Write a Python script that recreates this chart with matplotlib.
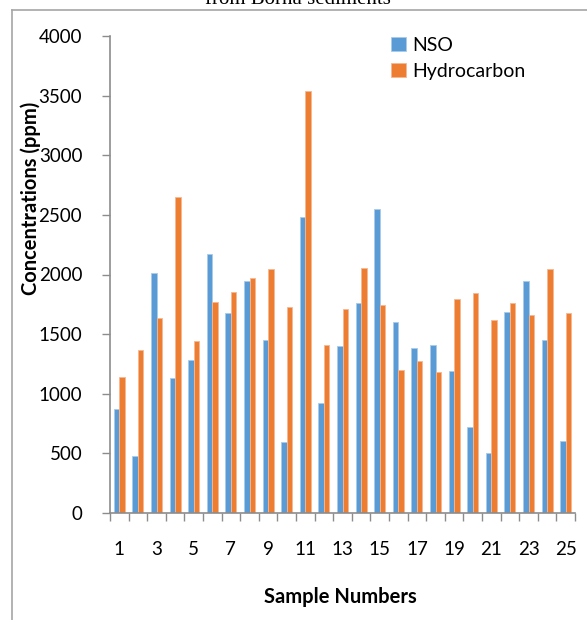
import matplotlib
matplotlib.use("Agg")
import matplotlib.pyplot as plt
from matplotlib.lines import Line2D
import numpy as np

# NSO and hydrocarbon concentrations (ppm) for samples 1-25
samples = list(range(1, 26))
nso = [870, 478, 2010, 1132, 1283, 2169, 1680, 1943, 1450, 595,
       2485, 920, 1400, 1758, 2549, 1604, 1381, 1409, 1188, 719,
       500, 1683, 1943, 1450, 601]
hydrocarbon = [1138, 1364, 1638, 2650, 1440, 1769, 1851, 1968, 2046, 1727,
               3541, 1409, 1713, 2052, 1742, 1199, 1272, 1180, 1797, 1845,
               1618, 1758, 1660, 2046, 1674]
x_labels = [str(s) if s % 2 == 1 else "" for s in samples]
y_ticks = list(range(0, 4001, 500))

plt.rcParams['font.family'] = ['Lato', 'DejaVu Sans']

W, H = 587, 620
fig = plt.figure(figsize=(W / 100, H / 100), dpi=100)
fig.patch.set_facecolor("white")

def fx(px):
    return px / W

def fy(py):
    return 1 - py / H

ax = fig.add_axes([fx(110), fy(513), fx(575) - fx(110), fy(36) - fy(513)])

x = np.array(samples, dtype=float)
bw = 0.3
ax.bar(x - bw / 2, nso, width=bw, color="#5B9BD5", edgecolor="#A9CBEB",
       linewidth=0.6, label="NSO", zorder=2)
ax.bar(x + bw / 2, hydrocarbon, width=bw, color="#ED7D31", edgecolor="#F6B892",
       linewidth=0.6, label="Hydrocarbon", zorder=2)

ax.set_xlim(0.5, 25.5)
ax.set_ylim(0, 4000)
ax.set_yticks(y_ticks)
ax.set_yticklabels([str(v) for v in y_ticks], fontsize=13.5)

# labels sit on the categories, tick marks on the boundaries
ax.set_xticks(x)
ax.set_xticklabels(x_labels, fontsize=13.5)
ax.set_xticks(np.arange(0.5, 26, 1.0), minor=True)
ax.tick_params(axis="x", which="major", length=0, pad=20)
ax.tick_params(axis="x", which="minor", length=6, width=1, color="#8C8C8C",
               direction="out")
ax.tick_params(axis="y", length=6, width=1, color="#8C8C8C", pad=14)

for side in ("top", "right"):
    ax.spines[side].set_visible(False)
for side in ("left", "bottom"):
    ax.spines[side].set_color("#8C8C8C")
    ax.spines[side].set_linewidth(1.2)

leg = ax.legend(loc="upper left", bbox_to_anchor=(fx(391), fy(37)),
                bbox_transform=fig.transFigure, frameon=False, fontsize=14,
                handlelength=0.75, handleheight=0.75, handletextpad=0.35,
                labelspacing=0.45, borderaxespad=0, borderpad=0)

fig.text(fx(31), fy(198), "Concentrations (ppm)", rotation=90, ha="center",
         va="center", fontsize=14.5, fontweight="bold")
fig.text(fx(340), fy(597), "Sample Numbers", ha="center", va="center",
         fontsize=14.5, fontweight="bold")

# caption line above the chart frame
fig.text(fx(298), fy(4), "from Borna sediments", ha="center", va="baseline",
         fontsize=15, family="Liberation Serif")

# chart area border
fig.add_artist(Line2D([fx(11.5), fx(11.5)], [fy(9.5), 0], color="#A6A6A6",
                      linewidth=1.2, transform=fig.transFigure))
fig.add_artist(Line2D([fx(11.5), 1], [fy(9.5), fy(9.5)], color="#A6A6A6",
                      linewidth=1.2, transform=fig.transFigure))

fig.savefig("out.png", dpi=100)
